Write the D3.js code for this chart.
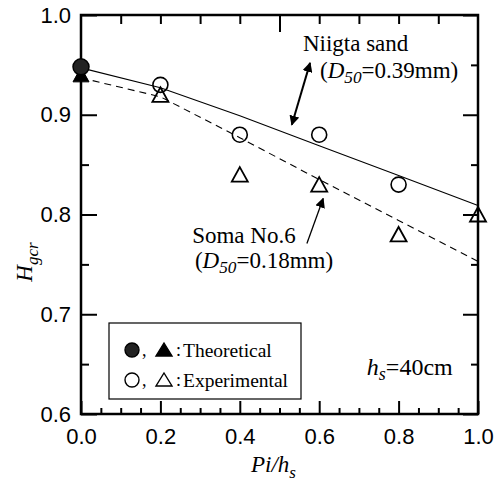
<!DOCTYPE html>
<html>
<head>
<meta charset="utf-8">
<script src="https://cdn.jsdelivr.net/npm/d3@7"></script>
<style>
  body { margin: 0; background: #fff; }
  text { fill: #000; }
</style>
</head>
<body>
<svg width="496" height="481"></svg>
<script>
// values
var theoX = [0.0];
var niigataTheo = [0.948];
var somaTheo = [0.940];
var niigataExpX = [0.2, 0.4, 0.6, 0.8];
var niigataExp = [0.93, 0.88, 0.88, 0.83];
var somaExpX = [0.2, 0.4, 0.6, 0.8, 1.0];
var somaExp = [0.92, 0.84, 0.83, 0.78, 0.80];
var curveX = [0.0, 0.2, 0.4, 0.6, 0.8, 1.0];
var niigataCurve = [0.947, 0.927, 0.899, 0.869, 0.839, 0.809];
var somaCurve = [0.937, 0.918, 0.877, 0.835, 0.794, 0.753];
var xTicks = [0.0, 0.2, 0.4, 0.6, 0.8, 1.0];
var yTicks = [0.6, 0.7, 0.8, 0.9, 1.0];

var svg = d3.select("svg"),
    width = +svg.attr("width"),
    height = +svg.attr("height");
var margin = {top: 15, right: 18, bottom: 67, left: 81};
var w = width - margin.left - margin.right,
    h = height - margin.top - margin.bottom;

var x = d3.scaleLinear().domain([0, 1]).range([0, w]);
var y = d3.scaleLinear().domain([0.6, 1.0]).range([h, 0]);

var g = svg.append("g").attr("transform", "translate(" + margin.left + "," + margin.top + ")");

var sans = "'Liberation Sans', Arial, sans-serif",
    serif = "'Liberation Serif', 'Times New Roman', serif";

function range(a, b, s) { return d3.range(0, Math.round((b - a) / s) + 1).map(function(i) { return +(a + i * s).toFixed(3); }); }
function notIn(list) { return function(v) { return !list.some(function(t) { return Math.abs(t - v) < 1e-6; }); }; }

// ticks (all pointing inwards)
function addAxis(axis, tr, labels) {
  var a = g.append("g").attr("transform", tr).call(axis);
  a.select(".domain").remove();
  a.selectAll("line").attr("stroke", "#000").attr("stroke-width", 2);
  a.selectAll("text").attr("font-family", sans).attr("font-size", 22);
  if (!labels) a.selectAll("text").remove();
  return a;
}
var xMinor = range(0, 1, 0.05).filter(notIn(xTicks));
var bx = addAxis(d3.axisBottom(x).tickValues(xTicks).tickSize(-13).tickPadding(30).tickFormat(d3.format(".1f")), "translate(0," + h + ")", true);
bx.selectAll("text").attr("dy", "0em");
addAxis(d3.axisBottom(x).tickValues(xMinor).tickSize(-6), "translate(0," + h + ")", false);

var topVals = range(0.1, 0.9, 0.1);
addAxis(d3.axisTop(x).tickValues(topVals.filter(notIn([0.5]))).tickSize(-9), "translate(0,0)", false);
addAxis(d3.axisTop(x).tickValues([0.5]).tickSize(-17), "translate(0,0)", false);

var yMinor = range(0.6, 1.0, 0.05).filter(notIn(yTicks));
addAxis(d3.axisLeft(y).tickValues(yTicks).tickSize(-16).tickPadding(10).tickFormat(d3.format(".1f")), "translate(0,0)", true);
addAxis(d3.axisLeft(y).tickValues(yMinor).tickSize(-8), "translate(0,0)", false);
addAxis(d3.axisRight(y).tickValues(yTicks).tickSize(-15), "translate(" + w + ",0)", false);
addAxis(d3.axisRight(y).tickValues(yMinor).tickSize(-7), "translate(" + w + ",0)", false);

// frame
g.append("rect").attr("width", w).attr("height", h)
  .attr("fill", "none").attr("stroke", "#000").attr("stroke-width", 2.5);

// fitted curves
var line = d3.line().x(function(d) { return x(d[0]); }).y(function(d) { return y(d[1]); });
g.append("path").datum(d3.zip(curveX, niigataCurve)).attr("d", line)
  .attr("fill", "none").attr("stroke", "#000").attr("stroke-width", 1.1);
g.append("path").datum(d3.zip(curveX, somaCurve)).attr("d", line)
  .attr("fill", "none").attr("stroke", "#000").attr("stroke-width", 1.1)
  .attr("stroke-dasharray", "7,5");

// markers
var tri = "M0,-7.5L8,7L-8,7Z";
g.selectAll(".nexp").data(d3.zip(niigataExpX, niigataExp)).enter().append("circle")
  .attr("cx", function(d) { return x(d[0]); }).attr("cy", function(d) { return y(d[1]); })
  .attr("r", 7.5).attr("fill", "none").attr("stroke", "#000").attr("stroke-width", 1.6);
g.selectAll(".sexp").data(d3.zip(somaExpX, somaExp)).enter().append("path")
  .attr("d", tri).attr("transform", function(d) { return "translate(" + x(d[0]) + "," + y(d[1]) + ")"; })
  .attr("fill", "none").attr("stroke", "#000").attr("stroke-width", 1.8);
g.selectAll(".stheo").data(d3.zip(theoX, somaTheo)).enter().append("path")
  .attr("d", tri).attr("transform", function(d) { return "translate(" + x(d[0]) + "," + y(d[1]) + ")"; })
  .attr("fill", "#000").attr("stroke", "#000");
g.selectAll(".ntheo").data(d3.zip(theoX, niigataTheo)).enter().append("circle")
  .attr("cx", function(d) { return x(d[0]); }).attr("cy", function(d) { return y(d[1]); })
  .attr("r", 8).attr("fill", "#222").attr("stroke", "#000").attr("stroke-width", 1.5);

// arrows
var defs = svg.append("defs");
defs.append("marker").attr("id", "head").attr("viewBox", "0 -5 10 10")
  .attr("refX", 9).attr("markerWidth", 10).attr("markerHeight", 10)
  .attr("markerUnits", "userSpaceOnUse").attr("orient", "auto-start-reverse")
  .append("path").attr("d", "M0,-5L10,0L0,5Z").attr("fill", "#000");

g.append("line")
  .attr("x1", x(0.577)).attr("y1", y(0.952)).attr("x2", x(0.531)).attr("y2", y(0.890))
  .attr("stroke", "#000").attr("stroke-width", 2)
  .attr("marker-start", "url(#head)").attr("marker-end", "url(#head)");
g.append("line")
  .attr("x1", x(0.569)).attr("y1", y(0.771)).attr("x2", x(0.610)).attr("y2", y(0.816))
  .attr("stroke", "#000").attr("stroke-width", 1.3)
  .attr("marker-end", "url(#head)");

// annotations; parts = [text, italic, dy of a subscript]
function label(xv, yv, parts, size) {
  var t = g.append("text").attr("x", x(xv)).attr("y", y(yv))
    .attr("font-family", serif).attr("font-size", size);
  parts.forEach(function(p) {
    var s = t.append("tspan").text(p[0]);
    if (p[1]) s.attr("font-style", "italic");
    if (p[2] > 0) s.attr("font-size", size * 0.75);
    if (p[2]) s.attr("dy", p[2]);
  });
  return t;
}
label(0.559, 0.964, [["Niigta sand"]], 23);
label(0.602, 0.937, [["("], ["D", true], ["50", true, 5], ["=0.39mm)", false, -5]], 23);
label(0.280, 0.7714, [["Soma No.6"]], 23);
label(0.287, 0.7459, [["("], ["D", true], ["50", true, 5], ["=0.18mm)", false, -5]], 23);
label(0.72, 0.639, [["h", true], ["s", true, 5], ["=40cm", false, -5]], 24);

// legend
var lg = g.append("g").attr("transform", "translate(" + (109 - margin.left) + "," + (323 - margin.top) + ")");
lg.append("rect").attr("width", 192).attr("height", 76)
  .attr("fill", "#fff").attr("stroke", "#000").attr("stroke-width", 1.2);
var rows = [{fill: "#222", text: "Theoretical", dy: 27}, {fill: "none", text: "Experimental", dy: 57}];
rows.forEach(function(r) {
  var row = lg.append("g").attr("transform", "translate(0," + r.dy + ")");
  row.append("circle").attr("cx", 23).attr("cy", 0).attr("r", 7)
    .attr("fill", r.fill).attr("stroke", "#000").attr("stroke-width", 1.4);
  row.append("text").attr("x", 33).attr("y", 6).attr("font-family", serif).attr("font-size", 18).text(",");
  row.append("path").attr("d", "M0,-7L8,6L-8,6Z").attr("transform", "translate(55,0)")
    .attr("fill", r.fill === "none" ? "none" : "#000").attr("stroke", "#000").attr("stroke-width", 1.4);
  row.append("text").attr("x", 67).attr("y", 6).attr("font-family", serif).attr("font-size", 18).text(":");
  row.append("text").attr("x", 74).attr("y", 7).attr("font-family", serif).attr("font-size", 19.5).text(r.text);
});

// axis titles
var xt = svg.append("text").attr("x", margin.left + x(0.5) - 6).attr("y", 472)
  .attr("text-anchor", "middle").attr("font-family", serif).attr("font-size", 23).attr("font-style", "italic");
xt.append("tspan").text("Pi/h");
xt.append("tspan").text("s").attr("font-size", 17).attr("dy", 6);

var yt = svg.append("text").attr("transform", "translate(32,262) rotate(-90)")
  .attr("text-anchor", "middle").attr("font-family", serif).attr("font-size", 23).attr("font-style", "italic");
yt.append("tspan").text("H");
yt.append("tspan").text("gcr").attr("font-size", 17).attr("dy", 6);
</script>
</body>
</html>
